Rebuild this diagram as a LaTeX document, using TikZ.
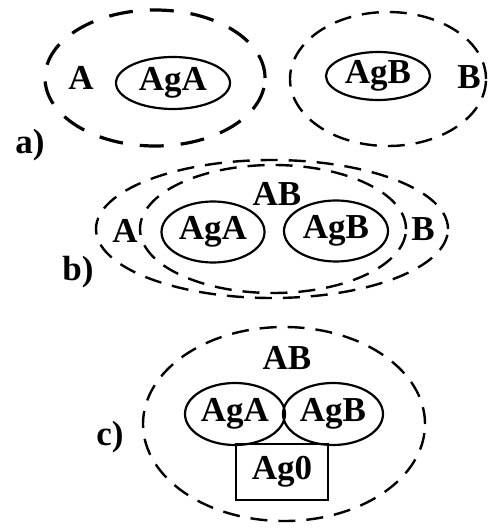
\documentclass[tikz,border=0pt]{standalone}
\usepackage{fontspec}
\setmainfont{Liberation Serif}
\usetikzlibrary{shapes.geometric}
\tikzset{
  lbl/.style={font=\fontsize{35}{35}\selectfont\bfseries, inner sep=0pt},
  agent/.style={ellipse, draw, line width=2.2pt, inner sep=0pt, font=\fontsize{35}{35}\selectfont\bfseries},
  grp/.style={ellipse, draw, line width=2.4pt, inner sep=0pt, dash pattern=on 17pt off 11pt},
  grpthick/.style={ellipse, draw, line width=3.2pt, inner sep=0pt, dash pattern=on 24pt off 17pt},
}
\begin{document}
\begin{tikzpicture}[x=1pt,y=-1pt]
\useasboundingbox (0,0) rectangle (492,529);
% a)
\node[grpthick, minimum width=220pt, minimum height=136pt] (grA) at (155,78) {};
\node[grp, minimum width=196pt, minimum height=134pt] (grB) at (388,79) {};
\node[agent, minimum width=114pt, minimum height=52pt] (agaA) at (173,83) {AgA};
\node[agent, minimum width=104pt, minimum height=48pt] (agbA) at (378,76) {AgB};
\node[lbl] (lA) at (81,78) {A};
\node[lbl] (lB) at (469,77) {B};
\node[lbl] (la) at (30,145) {a)};
% b)
\node[grp, minimum width=352pt, minimum height=138pt] (outB) at (272,229) {};
\node[grp, minimum width=266pt, minimum height=128pt] (inB) at (273,229) {};
\node[agent, minimum width=103pt, minimum height=61pt] (agaB) at (213,232) {AgA};
\node[agent, minimum width=104pt, minimum height=61pt] (agbB) at (336,231) {AgB};
\node[lbl] (lAB) at (277,194) {AB};
\node[lbl] (lA2) at (125,231) {A};
\node[lbl] (lB2) at (423,229) {B};
\node[lbl] (lb) at (78,272) {b)};
% c)
\node[grp, minimum width=282pt, minimum height=194pt] (grC) at (284,424) {};
\node[lbl] (lAB3) at (287,358) {AB};
\node[agent, minimum width=100pt, minimum height=62pt] (agaC) at (235,414) {AgA};
\node[agent, minimum width=100pt, minimum height=62pt] (agbC) at (333,414) {AgB};
\node[draw, line width=2.2pt, minimum width=92pt, minimum height=56pt, inner sep=0pt, font=\fontsize{35}{35}\selectfont\bfseries] (ag0) at (282,472) {Ag0};
\node[lbl] (lc) at (110,437) {c)};
\end{tikzpicture}
\end{document}
